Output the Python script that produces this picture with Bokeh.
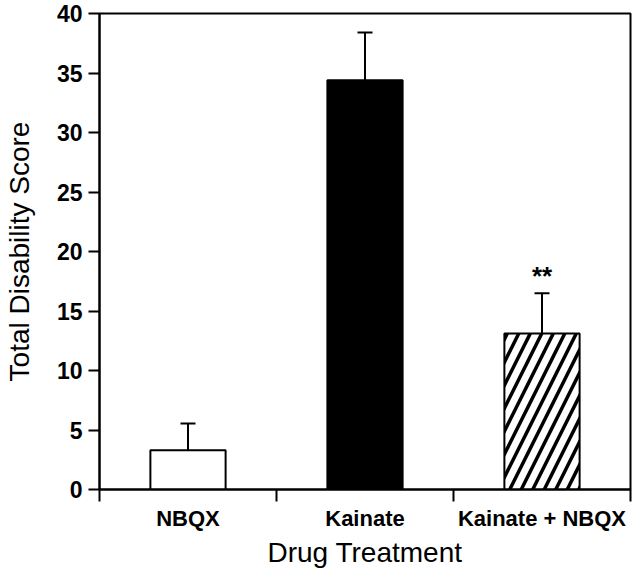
from bokeh.plotting import figure
from bokeh.models import (ColumnDataSource, Range1d, FixedTicker,
                          Whisker, TeeHead, LinearAxis)
from bokeh.core.properties import value
from bokeh.embed import file_html
from bokeh.resources import INLINE

# ---- data ----
categories = ["NBQX", "Kainate", "Kainate + NBQX"]
means = [3.3, 34.4, 13.1]
sem = [2.25, 4.0, 3.4]
fills = ["white", "black", "white"]
hatches = [" ", " ", "/"]
signif = ["", "", "**"]
y_ticks = [0, 5, 10, 15, 20, 25, 30, 35, 40]

FONT = "Liberation Sans"

n = len(categories)
xpos = [i + 0.5 for i in range(n)]
src = ColumnDataSource(dict(
    x=xpos, top=means, upper=[m + e for m, e in zip(means, sem)],
    fill=fills, hatch=hatches, sig=signif,
))

p = figure(width=632, height=570, output_backend="svg", toolbar_location=None,
           x_range=Range1d(0, n), y_range=Range1d(0, 40),
           x_axis_type=None, y_axis_type=None,
           min_border_left=97, min_border_right=2, min_border_top=13,
           min_border_bottom=0)
p.grid.visible = False
p.outline_line_color = "black"
p.outline_line_width = 2
p.background_fill_color = "white"
p.border_fill_color = "white"

# bars
p.vbar(x="x", top="top", bottom=0, width=0.425, source=src,
       fill_color="fill", line_color="black", line_width=2,
       hatch_pattern="hatch", hatch_color="black", hatch_scale=23, hatch_weight=3.5)

# error bars (upper only)
w = Whisker(base="x", lower="top", upper="upper", source=src, dimension="height",
            line_color="black", line_width=2,
            upper_head=TeeHead(size=15, line_width=2, line_color="black"),
            lower_head=None)
p.add_layout(w)

# significance marks
p.text(x="x", y="upper", text="sig", source=src, text_align="center",
       text_baseline="bottom", y_offset=-2, text_font=value(FONT),
       text_font_size="26px", text_font_style="bold", text_color="black")

# x axis: labels at category centers, ticks at boundaries
xt = FixedTicker(ticks=xpos, minor_ticks=list(range(n + 1)))
xaxis = LinearAxis(ticker=xt, axis_label="Drug Treatment",
                   major_label_overrides={x: c for x, c in zip(xpos, categories)})
xaxis.axis_line_width = 2
xaxis.major_tick_out = 12
xaxis.major_tick_in = 0
xaxis.major_tick_line_alpha = 0
xaxis.minor_tick_out = 12
xaxis.minor_tick_in = 0
xaxis.minor_tick_line_width = 2
xaxis.minor_tick_line_color = "black"
xaxis.major_label_standoff = 4
xaxis.major_label_text_font = FONT
xaxis.major_label_text_font_size = "22px"
xaxis.major_label_text_font_style = "bold"
xaxis.major_label_text_color = "black"
xaxis.axis_label_standoff = 3
xaxis.axis_label_text_font = FONT
xaxis.axis_label_text_font_size = "28px"
xaxis.axis_label_text_font_style = "normal"
xaxis.axis_label_text_color = "black"
p.add_layout(xaxis, "below")

yaxis = LinearAxis(ticker=FixedTicker(ticks=y_ticks), axis_label="Total Disability Score")
yaxis.axis_line_width = 2
yaxis.major_tick_out = 11
yaxis.major_tick_in = 0
yaxis.major_tick_line_width = 2
yaxis.minor_tick_line_color = None
yaxis.major_label_standoff = 6
yaxis.major_label_text_font = FONT
yaxis.major_label_text_font_size = "23px"
yaxis.major_label_text_font_style = "bold"
yaxis.major_label_text_color = "black"
yaxis.axis_label_standoff = 19
yaxis.axis_label_text_font = FONT
yaxis.axis_label_text_font_size = "28px"
yaxis.axis_label_text_font_style = "normal"
yaxis.axis_label_text_color = "black"
p.add_layout(yaxis, "left")

open("out.html", "w").write(file_html(p, INLINE))
